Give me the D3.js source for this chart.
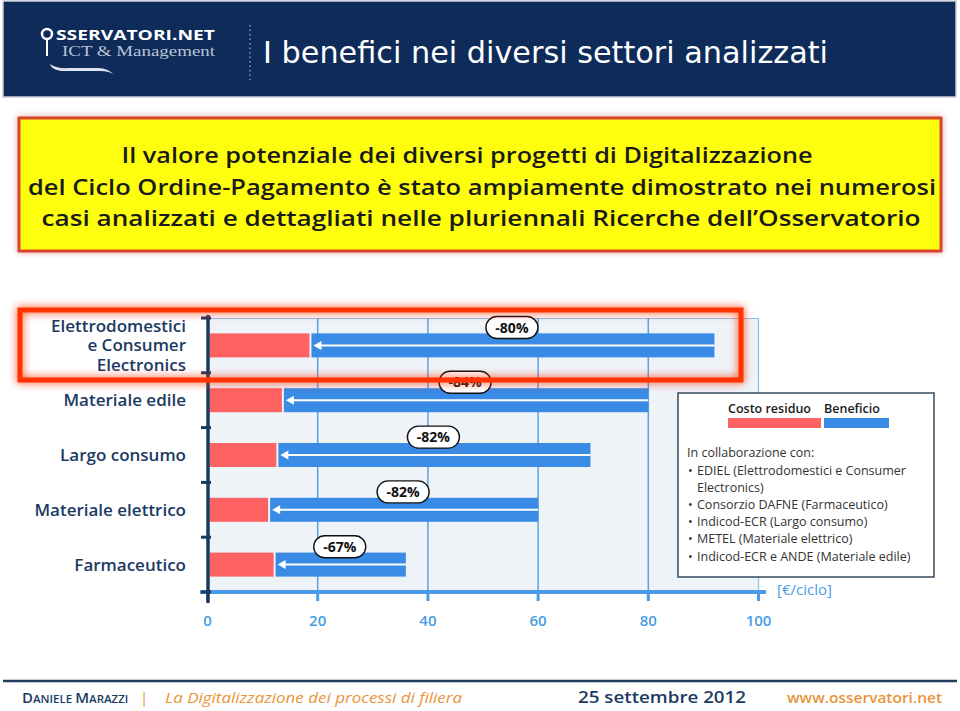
<!DOCTYPE html>
<html lang="it">
<head>
<meta charset="utf-8">
<script src="https://d3js.org/d3.v7.min.js"></script>
<title>I benefici nei diversi settori analizzati</title>
<style>
  body { margin: 0; background: #fff; }
  svg text { font-family: "Open Sans", "DejaVu Sans", sans-serif; }
</style>
</head>
<body>
<div id="chart"></div>
<script>
// data
const categories = ["Elettrodomestici e Consumer Electronics", "Materiale edile", "Largo consumo", "Materiale elettrico", "Farmaceutico"];
const catLines = [["Elettrodomestici", "e Consumer", "Electronics"], ["Materiale edile"], ["Largo consumo"], ["Materiale elettrico"], ["Farmaceutico"]];
const costoResiduo = [18.5, 13.5, 12.5, 11, 12];   // red bar end
const costoIniziale = [92, 80, 69.5, 60, 36];      // blue bar end
const riduzione = ["-80%", "-84%", "-82%", "-82%", "-67%"];
const xTicks = [0, 20, 40, 60, 80, 100];
const introLines = ["Il valore potenziale dei diversi progetti di Digitalizzazione",
                    "del Ciclo Ordine-Pagamento è stato ampiamente dimostrato nei numerosi",
                    "casi analizzati e dettagliati nelle pluriennali Ricerche dell\u2019Osservatorio"];
const partners = ["EDIEL (Elettrodomestici e Consumer", "Electronics)", "Consorzio DAFNE (Farmaceutico)",
                  "Indicod-ECR (Largo consumo)", "METEL (Materiale elettrico)", "Indicod-ECR e ANDE (Materiale edile)"];

const W = 960, H = 711;
const RED = "#FF6262", BLUE = "#3A8BE6", NAVY = "#1B3A63", LBLUE = "#4A9BE5";

const svg = d3.select("#chart").append("svg").attr("width", W).attr("height", H);
const defs = svg.append("defs");
const glow = defs.append("filter").attr("id", "glow").attr("x", "-10%").attr("y", "-30%").attr("width", "120%").attr("height", "160%");
glow.append("feGaussianBlur").attr("in", "SourceGraphic").attr("stdDeviation", 4).attr("result", "b");
const gm = glow.append("feMerge");
gm.append("feMergeNode").attr("in", "b");
gm.append("feMergeNode").attr("in", "SourceGraphic");
const shadow = defs.append("filter").attr("id", "shadow").attr("x", "-5%").attr("y", "-20%").attr("width", "110%").attr("height", "140%");
shadow.append("feGaussianBlur").attr("in", "SourceAlpha").attr("stdDeviation", 3).attr("result", "s");
shadow.append("feFlood").attr("flood-color", "#c0392b").attr("flood-opacity", 0.45);
shadow.append("feComposite").attr("in2", "s").attr("operator", "in").attr("result", "sc");
const sm = shadow.append("feMerge");
sm.append("feMergeNode").attr("in", "sc");
sm.append("feMergeNode").attr("in", "SourceGraphic");

// HEADER
svg.append("rect").attr("x", 3).attr("y", 1).attr("width", 953).attr("height", 96)
   .attr("fill", "#0E2B5A").attr("stroke", "#c9ced6").attr("stroke-width", 1.5);
svg.append("text").attr("x", 263).attr("y", 63).attr("fill", "#fff")
   .style("font-family", "'DejaVu Sans Condensed', 'DejaVu Sans', sans-serif").style("font-size", "30px")
   .attr("textLength", 565).attr("lengthAdjust", "spacingAndGlyphs")
   .text("I benefici nei diversi settori analizzati");
// logo
const logo = svg.append("g");
logo.append("circle").attr("cx", 47).attr("cy", 34).attr("r", 5).attr("fill", "none").attr("stroke", "#fff").attr("stroke-width", 2.5);
logo.append("line").attr("x1", 47).attr("y1", 39).attr("x2", 47).attr("y2", 56).attr("stroke", "#fff").attr("stroke-width", 2);
logo.append("text").attr("x", 56).attr("y", 40).attr("fill", "#fff").style("font-size", "14px").style("font-weight", 700)
   .attr("textLength", 159).attr("lengthAdjust", "spacingAndGlyphs").text("SSERVATORI.NET");
logo.append("text").attr("x", 62).attr("y", 56).attr("fill", "#b9c3d4")
   .style("font-family", "'Liberation Serif', 'DejaVu Serif', serif").style("font-size", "15px")
   .attr("textLength", 153).attr("lengthAdjust", "spacingAndGlyphs").text("ICT & Management");
logo.append("path").attr("d", "M50,64 Q52,72 70,71 L100,71 Q110,71 114,75 Q108,68 98,68 L70,68 Q56,69 50,64 Z").attr("fill", "#dfe5ee");
svg.append("line").attr("x1", 250).attr("y1", 25).attr("x2", 250).attr("y2", 80)
   .attr("stroke", "#8a9ab5").attr("stroke-width", 1.5).attr("stroke-dasharray", "1.5,3");

// YELLOW BOX
svg.append("rect").attr("x", 19).attr("y", 118).attr("width", 922).attr("height", 133)
   .attr("fill", "#FFFF0A").attr("stroke", "#D9442E").attr("stroke-width", 3).attr("filter", "url(#shadow)");
const introX = [467, 482, 481], introW = [691, 908, 879], introY = [163, 195, 226];
svg.selectAll("text.intro").data(introLines).join("text").attr("class", "intro")
   .attr("x", (d, i) => introX[i]).attr("y", (d, i) => introY[i]).attr("text-anchor", "middle")
   .attr("fill", "#1a1a1a").style("font-size", "22px").style("font-weight", 600)
   .attr("textLength", (d, i) => introW[i]).attr("lengthAdjust", "spacingAndGlyphs")
   .text(d => d);

// CHART
const x = d3.scaleLinear().domain([0, 100]).range([207.5, 758.5]);
const y = d3.scaleBand().domain(categories).range([318, 592]);
const barH = 24;

svg.append("rect").attr("x", x(0)).attr("y", y.range()[0]).attr("width", x(100) - x(0)).attr("height", y.range()[1] - y.range()[0])
   .attr("fill", "#EEF3F8");
svg.append("line").attr("x1", x(0)).attr("x2", x(100)).attr("y1", 318.5).attr("y2", 318.5).attr("stroke", "#8dbbe6").attr("stroke-width", 1);
svg.selectAll("line.grid").data(xTicks.slice(1)).join("line").attr("class", "grid")
   .attr("x1", d => x(d)).attr("x2", d => x(d)).attr("y1", 318).attr("y2", 592)
   .attr("stroke", d => d === 100 ? "#8dbbe6" : "#5BA3E0").attr("stroke-width", d => d === 100 ? 1.2 : 1.5);

const rows = svg.selectAll("g.row").data(categories).join("g").attr("class", "row")
   .attr("transform", d => `translate(0,${y(d) + y.bandwidth() / 2})`);
rows.append("rect").attr("x", x(0) + 2).attr("y", -barH / 2)
   .attr("width", (d, i) => x(costoResiduo[i]) - x(0) - 2).attr("height", barH).attr("fill", RED);
rows.append("rect").attr("x", (d, i) => x(costoResiduo[i]) + 2).attr("y", -barH / 2)
   .attr("width", (d, i) => x(costoIniziale[i]) - x(costoResiduo[i]) - 2).attr("height", barH).attr("fill", BLUE);
rows.append("line").attr("x1", (d, i) => x(costoResiduo[i]) + 8).attr("x2", (d, i) => x(costoIniziale[i]))
   .attr("y1", 0).attr("y2", 0).attr("stroke", "#fff").attr("stroke-width", 2);
rows.append("path").attr("fill", "#fff")
   .attr("d", (d, i) => { const a = x(costoResiduo[i]) + 4; return `M${a},0 L${a + 8},-4.5 L${a + 8},4.5 Z`; });

// pills with the reduction
const pills = rows.append("g").attr("transform", (d, i) =>
   `translate(${x((costoResiduo[i] + costoIniziale[i]) / 2)},${-y.bandwidth() / 2 + 9.5})`);
pills.append("rect").attr("x", -26).attr("y", -11).attr("width", 52).attr("height", 22).attr("rx", 11)
   .attr("fill", "#fff").attr("stroke", "#111").attr("stroke-width", 1.4);
pills.append("text").attr("text-anchor", "middle").attr("y", 5).attr("fill", "#111")
   .style("font-size", "14px").style("font-weight", 700).text((d, i) => riduzione[i]);

// category labels
rows.each(function(d, i) {
  const lines = catLines[i];
  lines.forEach((l, k) => {
    d3.select(this).append("text").attr("text-anchor", "end").attr("fill", NAVY)
       .style("font-size", "17px").style("font-weight", 600)
       .attr("x", 186).attr("y", 6 + (k - (lines.length - 1) / 2) * 19.5).text(l);
  });
});

// axes
const xAxis = svg.append("g");
xAxis.append("line").attr("x1", 200).attr("x2", 766).attr("y1", 592).attr("y2", 592).attr("stroke", LBLUE).attr("stroke-width", 4);
xAxis.selectAll("line.tick").data(xTicks).join("line").attr("class", "tick")
   .attr("x1", d => x(d)).attr("x2", d => x(d)).attr("y1", 590).attr("y2", 601).attr("stroke", LBLUE).attr("stroke-width", 3);
xAxis.selectAll("text").data(xTicks).join("text").attr("x", d => x(d)).attr("y", 626).attr("text-anchor", "middle")
   .attr("fill", LBLUE).style("font-size", "15px").style("font-weight", 600).text(d => d);
svg.append("text").attr("x", 777).attr("y", 595).attr("fill", LBLUE).style("font-size", "15px").text("[\u20AC/ciclo]");

const yAxis = svg.append("g");
yAxis.append("line").attr("x1", 208).attr("x2", 208).attr("y1", 315).attr("y2", 603).attr("stroke", NAVY).attr("stroke-width", 3.5);
const bounds = categories.map(c => y(c)).concat([y.range()[1]]);
yAxis.selectAll("line.tick").data(bounds).join("line").attr("class", "tick")
   .attr("x1", 201).attr("x2", 211).attr("y1", d => d).attr("y2", d => d).attr("stroke", NAVY).attr("stroke-width", 3);

// LEGEND BOX
const lg = svg.append("g");
lg.append("rect").attr("x", 678).attr("y", 393).attr("width", 256).attr("height", 184)
   .attr("fill", "#fff").attr("stroke", "#34495E").attr("stroke-width", 1.5);
lg.append("text").attr("x", 728).attr("y", 413).attr("fill", "#1a1a1a").style("font-size", "12.5px").style("font-weight", 600).text("Costo residuo");
lg.append("text").attr("x", 824).attr("y", 413).attr("fill", "#1a1a1a").style("font-size", "12.5px").style("font-weight", 600).text("Beneficio");
lg.append("rect").attr("x", 728).attr("y", 418).attr("width", 93).attr("height", 10).attr("fill", RED);
lg.append("rect").attr("x", 824).attr("y", 418).attr("width", 65).attr("height", 10).attr("fill", BLUE);
lg.append("text").attr("x", 687).attr("y", 457).attr("fill", "#333").style("font-size", "12.5px").text("In collaborazione con:");
const partY = [475, 492, 509, 526, 543, 561];
partners.forEach((p, i) => {
  if (i !== 1) lg.append("text").attr("x", 688).attr("y", partY[i]).attr("fill", "#333").style("font-size", "12.5px").text("\u2022");
  lg.append("text").attr("x", 697).attr("y", partY[i]).attr("fill", "#333").style("font-size", "12.5px").text(p);
});

// red highlight around the first row
svg.append("rect").attr("x", 20).attr("y", 310).attr("width", 721).attr("height", 70)
   .attr("fill", "none").attr("stroke", "#FF3300").attr("stroke-width", 5).attr("filter", "url(#glow)");

// FOOTER
svg.append("line").attr("x1", 3).attr("x2", 957).attr("y1", 681).attr("y2", 681).attr("stroke", "#1F3A5F").attr("stroke-width", 2.5);
const ft = svg.append("text").attr("x", 22).attr("y", 703).attr("fill", NAVY).style("font-size", "15px").style("font-weight", 600);
ft.append("tspan").text("D");
ft.append("tspan").style("font-size", "11.5px").text("ANIELE ");
ft.append("tspan").text("M");
ft.append("tspan").style("font-size", "11.5px").text("ARAZZI");
svg.append("text").attr("x", 140).attr("y", 703).attr("fill", "#E8943A").style("font-size", "15px").text("|");
svg.append("text").attr("x", 165).attr("y", 703).attr("fill", "#E8943A").style("font-size", "15px").style("font-style", "italic")
   .attr("textLength", 297).attr("lengthAdjust", "spacingAndGlyphs").text("La Digitalizzazione dei processi di filiera");
svg.append("text").attr("x", 578).attr("y", 703).attr("fill", NAVY).style("font-size", "16px").style("font-weight", 600)
   .attr("textLength", 168).attr("lengthAdjust", "spacingAndGlyphs").text("25 settembre 2012");
svg.append("text").attr("x", 787).attr("y", 703).attr("fill", "#E8943A").style("font-size", "15px").style("font-weight", 600)
   .attr("textLength", 155).attr("lengthAdjust", "spacingAndGlyphs").text("www.osservatori.net");
</script>
</body>
</html>
